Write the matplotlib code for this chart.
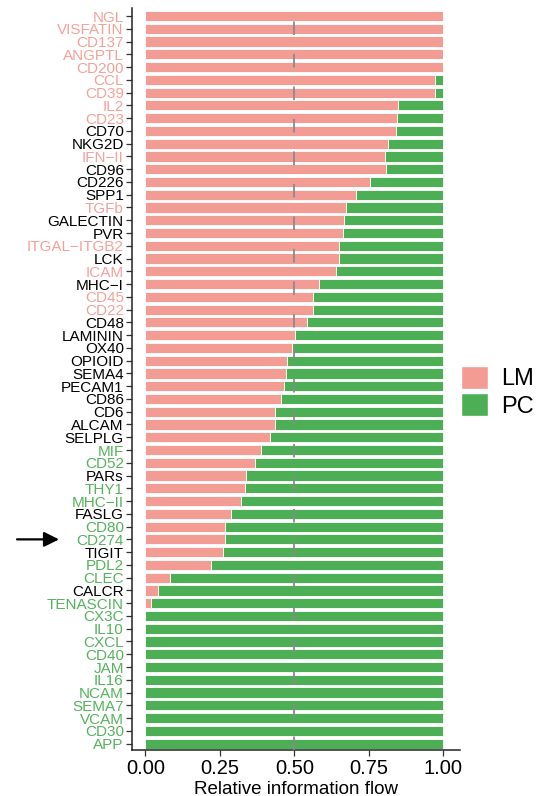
import matplotlib
matplotlib.use("Agg")
import matplotlib.pyplot as plt
from matplotlib.patches import Patch

plt.rcParams['font.family'] = ['Liberation Sans', 'DejaVu Sans']

# Pathways, listed top to bottom
pathways = [
    "NGL", "VISFATIN", "CD137", "ANGPTL", "CD200", "CCL", "CD39", "IL2", "CD23", "CD70",
    "NKG2D", "IFN\u2212II", "CD96", "CD226", "SPP1", "TGFb", "GALECTIN", "PVR", "ITGAL\u2212ITGB2", "LCK",
    "ICAM", "MHC\u2212I", "CD45", "CD22", "CD48", "LAMININ", "OX40", "OPIOID", "SEMA4", "PECAM1",
    "CD86", "CD6", "ALCAM", "SELPLG", "MIF", "CD52", "PARs", "THY1", "MHC\u2212II", "FASLG",
    "CD80", "CD274", "TIGIT", "PDL2", "CLEC", "CALCR", "TENASCIN", "CX3C", "IL10", "CXCL",
    "CD40", "JAM", "IL16", "NCAM", "SEMA7", "VCAM", "CD30", "APP",
]

# Relative information flow carried by LM (PC makes up the rest)
lm_share = [
    1.0, 1.0, 1.0, 1.0, 1.0, 0.973, 0.972, 0.849, 0.843, 0.841,
    0.813, 0.804, 0.808, 0.753, 0.707, 0.674, 0.665, 0.662, 0.651, 0.648,
    0.638, 0.583, 0.563, 0.563, 0.541, 0.502, 0.492, 0.474, 0.471, 0.464,
    0.454, 0.434, 0.434, 0.419, 0.388, 0.369, 0.336, 0.333, 0.320, 0.286,
    0.267, 0.266, 0.259, 0.220, 0.083, 0.042, 0.020, 0.0, 0.0, 0.0,
    0.0, 0.0, 0.0, 0.0, 0.0, 0.0, 0.0, 0.0,
]

# Pathway enrichment group used for label colouring
lm_only = {"NGL", "VISFATIN", "CD137", "ANGPTL", "CD200", "CCL", "CD39", "IL2", "CD23",
           "IFN\u2212II", "TGFb", "ITGAL\u2212ITGB2", "ICAM", "CD45", "CD22"}
pc_only = {"MIF", "CD52", "THY1", "MHC\u2212II", "CD80", "CD274", "PDL2", "CLEC", "TENASCIN",
           "CX3C", "IL10", "CXCL", "CD40", "JAM", "IL16", "NCAM", "SEMA7", "VCAM", "CD30", "APP"}

groups = ["LM", "PC"]
LM_COLOR = "#F29C93"
PC_COLOR = "#4DAF55"
LM_TEXT = "#F4A199"
PC_TEXT = "#55B35C"

n = len(pathways)
ypos = [n - 1 - i for i in range(n)]
pc_share = [1.0 - v for v in lm_share]

fig = plt.figure(figsize=(5.5, 7.96), dpi=100)
ax = fig.add_axes([0.24, 0.0578, 0.596, 0.9325])

ax.barh(ypos, lm_share, height=0.8, color=LM_COLOR, edgecolor="white", linewidth=0.6, zorder=2)
ax.barh(ypos, pc_share, left=lm_share, height=0.8, color=PC_COLOR, edgecolor="white",
        linewidth=0.6, zorder=2)

vl = ax.axvline(0.5, color="#8a8a8a", linewidth=1.3, zorder=3)
vl.set_dashes([7.5, 10.5])

ax.set_xlim(-0.045, 1.055)
ax.set_ylim(-0.5, n - 0.35)
ax.set_xticks([0, 0.25, 0.5, 0.75, 1.0])
ax.set_xticklabels(["0.00", "0.25", "0.50", "0.75", "1.00"])
ax.set_yticks(ypos)
ax.set_yticklabels(pathways)

for lbl, name in zip(ax.get_yticklabels(), pathways):
    if name in lm_only:
        lbl.set_color(LM_TEXT)
    elif name in pc_only:
        lbl.set_color(PC_TEXT)
    else:
        lbl.set_color("black")

ax.tick_params(axis="y", labelsize=11, length=4.3, width=0.9, pad=1.6, color="#333333")
ax.tick_params(axis="x", labelsize=14.5, length=4.3, width=0.9, pad=2.5, color="#333333",
               labelcolor="black")
ax.set_xlabel("Relative information flow", fontsize=13.5, labelpad=1.5)

for side in ("top", "right"):
    ax.spines[side].set_visible(False)
for side in ("left", "bottom"):
    ax.spines[side].set_linewidth(1.1)
    ax.spines[side].set_color("#222222")

handles = [Patch(facecolor=LM_COLOR, edgecolor="white"), Patch(facecolor=PC_COLOR, edgecolor="white")]
fig.legend(handles, groups, loc="center left", bbox_to_anchor=(0.838, 0.508),
           frameon=False, fontsize=17, handlelength=1.15, handleheight=1.15,
           handletextpad=0.55, labelspacing=0.12, borderpad=0, borderaxespad=0)

# Arrow pointing at CD274
cd274_y = ypos[pathways.index("CD274")]
ax.annotate("", xy=(59 / 550, cd274_y), xytext=(17 / 550, cd274_y),
            xycoords=("figure fraction", "data"), textcoords=("figure fraction", "data"),
            arrowprops=dict(arrowstyle="-|>,head_length=0.9,head_width=0.45",
                            color="black", lw=1.6, shrinkA=0, shrinkB=0),
            annotation_clip=False)

fig.savefig("out.png", dpi=100, facecolor="white")
